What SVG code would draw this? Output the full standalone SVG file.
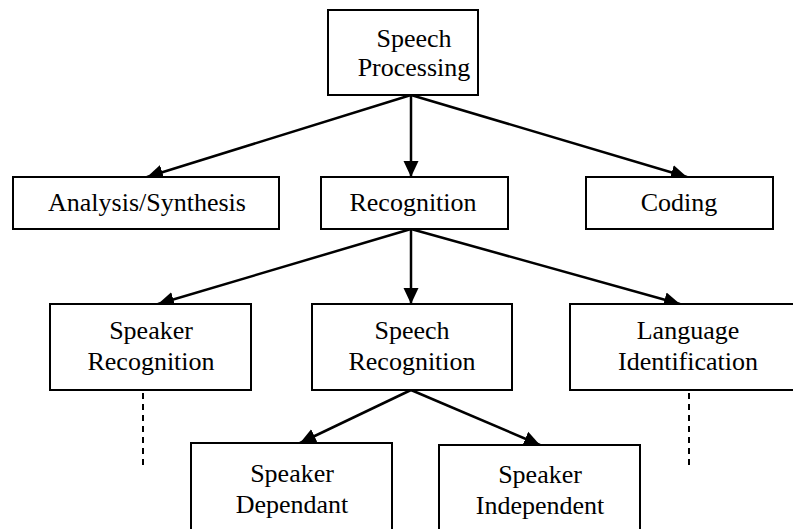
<svg xmlns="http://www.w3.org/2000/svg" width="793" height="529" viewBox="0 0 793 529" font-family="Liberation Serif, Times New Roman, serif">
<style>
.box{fill:#fff;stroke:#000;stroke-width:2}
text{font-size:26px;fill:#000;text-anchor:middle}
.c{stroke:#000;stroke-width:2.5;fill:none}
.d{stroke:#000;stroke-width:2;fill:none;stroke-dasharray:6,5}
</style>
<defs>
<marker id="ah" markerUnits="userSpaceOnUse" markerWidth="17" markerHeight="16" refX="16" refY="8" orient="auto">
<path d="M0,0.5 L16,8 L0,15.5 z" fill="#000"/>
</marker>
</defs>
<rect width="793" height="529" fill="#fff"/>
<g id="connectors">
<line class="c" x1="411" y1="95" x2="147" y2="177" marker-end="url(#ah)"/>
<line class="c" x1="411" y1="95" x2="411" y2="177" marker-end="url(#ah)"/>
<line class="c" x1="411" y1="95" x2="687" y2="177" marker-end="url(#ah)"/>
<line class="c" x1="411" y1="229" x2="158" y2="304" marker-end="url(#ah)"/>
<line class="c" x1="411" y1="229" x2="411" y2="304" marker-end="url(#ah)"/>
<line class="c" x1="411" y1="229" x2="680" y2="304" marker-end="url(#ah)"/>
<line class="c" x1="411" y1="390" x2="300" y2="443" marker-end="url(#ah)"/>
<line class="c" x1="411" y1="390" x2="540" y2="445" marker-end="url(#ah)"/>
<line class="d" x1="143" y1="393" x2="143" y2="470"/>
<line class="d" x1="689" y1="393" x2="689" y2="470"/>
</g>
<g id="speech-processing">
<rect class="box" x="328" y="10" width="150" height="85"/>
<text x="414" y="47">Speech</text>
<text x="414" y="76">Processing</text>
</g>
<g id="analysis-synthesis">
<rect class="box" x="13" y="177" width="266" height="52"/>
<text x="147" y="211">Analysis/Synthesis</text>
</g>
<g id="recognition">
<rect class="box" x="321" y="177" width="187" height="52"/>
<text x="413" y="211">Recognition</text>
</g>
<g id="coding">
<rect class="box" x="586" y="177" width="187" height="52"/>
<text x="679" y="211">Coding</text>
</g>
<g id="speaker-recognition">
<rect class="box" x="50" y="304" width="201" height="86"/>
<text x="151" y="339">Speaker</text>
<text x="151" y="370">Recognition</text>
</g>
<g id="speech-recognition">
<rect class="box" x="312" y="304" width="200" height="86"/>
<text x="412" y="339">Speech</text>
<text x="412" y="370">Recognition</text>
</g>
<g id="language-identification">
<rect class="box" x="570" y="304" width="230" height="86"/>
<text x="688" y="339">Language</text>
<text x="688" y="370">Identification</text>
</g>
<g id="speaker-dependant">
<rect class="box" x="191" y="443" width="201" height="95"/>
<text x="292" y="482">Speaker</text>
<text x="292" y="513">Dependant</text>
</g>
<g id="speaker-independent">
<rect class="box" x="439" y="445" width="201" height="95"/>
<text x="540" y="483">Speaker</text>
<text x="540" y="514">Independent</text>
</g>
</svg>
